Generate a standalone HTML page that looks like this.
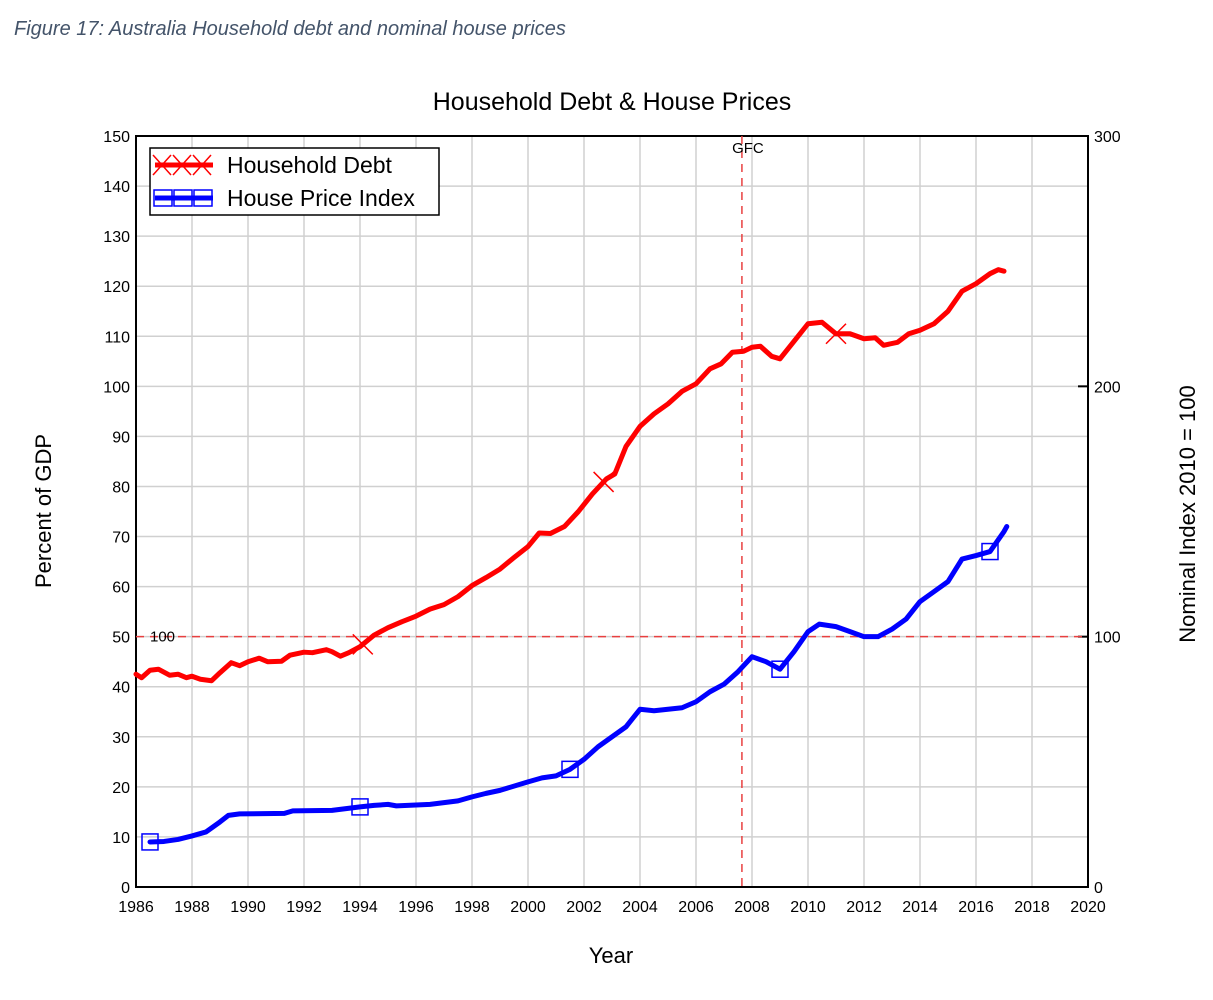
<!DOCTYPE html>
<html><head><meta charset="utf-8"><style>
body{margin:0;background:#fff;width:1213px;height:1000px;overflow:hidden;font-family:"Liberation Sans",sans-serif}
</style></head><body>
<div style="position:absolute;left:14px;top:18px;font-style:italic;font-size:20px;color:#44546a">Figure 17: Australia Household debt and nominal house prices</div>
<svg id="chart" width="1213" height="1000" style="position:absolute;left:0;top:0" font-family="Liberation Sans, sans-serif"></svg>
<script>
const debtYears=[1986.0,1986.2,1986.5,1986.8,1987.2,1987.5,1987.8,1988.0,1988.3,1988.7,1989.0,1989.4,1989.7,1990.0,1990.4,1990.7,1991.2,1991.5,1992.0,1992.3,1992.8,1993.0,1993.3,1993.6,1994.0,1994.5,1995.0,1995.5,1996.0,1996.5,1997.0,1997.5,1998.0,1998.5,1999.0,1999.5,2000.0,2000.4,2000.8,2001.3,2001.8,2002.3,2002.8,2003.1,2003.5,2004.0,2004.5,2005.0,2005.5,2006.0,2006.5,2006.9,2007.3,2007.7,2008.0,2008.3,2008.7,2009.0,2009.5,2010.0,2010.5,2011.0,2011.5,2012.0,2012.4,2012.7,2013.2,2013.6,2014.0,2014.5,2015.0,2015.5,2016.0,2016.5,2016.8,2017.0];
const debtValues=[42.5,41.8,43.3,43.5,42.3,42.5,41.8,42.1,41.5,41.2,42.8,44.8,44.2,45.0,45.7,45.0,45.1,46.3,46.9,46.8,47.4,47.0,46.1,46.8,48.0,50.3,51.8,53.0,54.1,55.5,56.4,58.0,60.2,61.8,63.5,65.8,68.0,70.7,70.6,72.0,75.0,78.5,81.5,82.5,88,92,94.5,96.5,99,100.5,103.5,104.5,106.8,107,107.8,108,106,105.5,109,112.5,112.8,110.5,110.5,109.5,109.7,108.2,108.8,110.5,111.2,112.5,115,119,120.5,122.5,123.3,123.0];
const hpiYears=[1986.5,1987.0,1987.5,1988.0,1988.5,1989.0,1989.3,1989.7,1991.3,1991.6,1993.0,1994.0,1994.5,1995.0,1995.3,1996.5,1997.5,1998.0,1998.5,1999.0,2000.0,2000.5,2001.0,2001.5,2002.0,2002.5,2003.0,2003.5,2004.0,2004.5,2005.0,2005.5,2006.0,2006.5,2007.0,2007.5,2008.0,2008.5,2009.0,2009.5,2010.0,2010.4,2011.0,2011.5,2012.0,2012.5,2013.0,2013.5,2014.0,2014.5,2015.0,2015.5,2016.0,2016.5,2017.0,2017.1];
const hpiValues=[18,18.2,19,20.4,22,26,28.6,29.2,29.4,30.4,30.6,32,32.6,33,32.4,33,34.4,36,37.4,38.6,42,43.6,44.4,47,51,56,60,64,71,70.4,71,71.6,74,78,81,86,92,90,87,94,102,105,104,102,100,100,103,107,114,118,122,131,132.4,134,142,144];
const debtMarkers=[1994.1,2002.7,2011.0];
const hpiMarkers=[1986.5,1994.0,2001.5,2009.0,2016.5];
const xTicks=[1986,1988,1990,1992,1994,1996,1998,2000,2002,2004,2006,2008,2010,2012,2014,2016,2018,2020];
const yTicks=[0,10,20,30,40,50,60,70,80,90,100,110,120,130,140,150];
const y2Ticks=[0,100,200,300];
const gfcYear=2007.64;

const L=136,R=1088,T=136,B=887;
const x=v=>L+(v-1986)/34*(R-L);
const y=v=>B-v/150*(B-T);
const y2=v=>B-v/300*(B-T);
const svg=document.getElementById('chart');
const NS='http://www.w3.org/2000/svg';
function mk(tag,attrs,parent){const e=document.createElementNS(NS,tag);for(const k in attrs)e.setAttribute(k,attrs[k]);(parent||svg).appendChild(e);return e;}
function interp(xs,vs,t){for(let i=0;i<xs.length-1;i++){if(t>=xs[i]&&t<=xs[i+1])return vs[i]+(vs[i+1]-vs[i])*(t-xs[i])/(xs[i+1]-xs[i]);}return vs[vs.length-1];}

let g=mk('g',{});


xTicks.forEach(t=>{if(t>1986&&t<2020)mk('line',{x1:x(t),x2:x(t),y1:T,y2:B,stroke:'#d0d0d0','stroke-width':1.5},g);});
yTicks.forEach(t=>{if(t>0&&t<150)mk('line',{x1:L,x2:R,y1:y(t),y2:y(t),stroke:'#d0d0d0','stroke-width':1.5},g);});

let ax=mk('g',{});


mk('rect',{x:L,y:T,width:R-L,height:B-T,fill:'none',stroke:'#000','stroke-width':2},ax);
xTicks.forEach(t=>{const e=mk('text',{x:x(t),y:912,'text-anchor':'middle','font-size':16},ax);e.textContent=t;

});
yTicks.forEach(t=>{const e=mk('text',{x:130,y:y(t)+6,'text-anchor':'end','font-size':16},ax);e.textContent=t;

});
y2Ticks.forEach(t=>{mk('line',{x1:R-10,x2:R,y1:y2(t),y2:y2(t),stroke:'#000','stroke-width':2},ax);const e=mk('text',{x:1094,y:y2(t)+6,'font-size':16},ax);e.textContent=t;

});

let ref=mk('line',{x1:L,x2:R,y1:y2(100),y2:y2(100),stroke:'#e84040','stroke-width':1.5,'stroke-dasharray':'8,6'});


let rl=mk('text',{x:150,y:y2(100)+5,'font-size':15});rl.textContent='100';


let gl=mk('line',{x1:x(gfcYear),x2:x(gfcYear),y1:T,y2:B,stroke:'#e84040','stroke-width':1.5,'stroke-dasharray':'8,6'});


let gt=mk('text',{x:x(gfcYear)+6,y:153,'text-anchor':'middle','font-size':15});gt.textContent='GFC';



let dp=mk('polyline',{points:debtYears.map((t,i)=>x(t)+','+y(debtValues[i])).join(' '),fill:'none',stroke:'#ff0000','stroke-width':5,'stroke-linejoin':'round','stroke-linecap':'round'});


let hp=mk('polyline',{points:hpiYears.map((t,i)=>x(t)+','+y2(hpiValues[i])).join(' '),fill:'none',stroke:'#0000ff','stroke-width':5,'stroke-linejoin':'round','stroke-linecap':'round'});


debtMarkers.forEach(t=>{const cx=x(t),cy=y(interp(debtYears,debtValues,t));const p=mk('path',{d:`M${cx-10},${cy-10}L${cx+10},${cy+10}M${cx-10},${cy+10}L${cx+10},${cy-10}`,stroke:'#ff0000','stroke-width':1.5});

});
hpiMarkers.forEach(t=>{const cx=x(t),cy=y2(interp(hpiYears,hpiValues,t));const p=mk('rect',{x:cx-8,y:cy-8,width:16,height:16,fill:'none',stroke:'#0000ff','stroke-width':1.5});

});

let lg=mk('g',{});


mk('rect',{x:150,y:148,width:289,height:67,fill:'#fff',stroke:'#000','stroke-width':1.5},lg);
mk('line',{x1:155,x2:213,y1:165,y2:165,stroke:'#ff0000','stroke-width':5},lg);
[162,182,202].forEach(c=>mk('path',{d:`M${c-9},155L${c+9},175M${c-9},175L${c+9},155`,stroke:'#ff0000','stroke-width':1.5},lg));
mk('line',{x1:155,x2:213,y1:198,y2:198,stroke:'#0000ff','stroke-width':5},lg);
[163,183,203].forEach(c=>mk('rect',{x:c-9,y:190,width:18,height:16,fill:'none',stroke:'#0000ff','stroke-width':1.5},lg));
let t1=mk('text',{x:227,y:173,'font-size':23},lg);t1.textContent='Household Debt';
let t2=mk('text',{x:227,y:206,'font-size':23},lg);t2.textContent='House Price Index';

let ti=mk('text',{x:612,y:110,'text-anchor':'middle','font-size':25});ti.textContent='Household Debt & House Prices';


let xl=mk('text',{x:611,y:963,'text-anchor':'middle','font-size':22});xl.textContent='Year';


let yl=mk('text',{x:0,y:0,'text-anchor':'middle','font-size':22,transform:'translate(51,511) rotate(-90)'});yl.textContent='Percent of GDP';


let y2l=mk('text',{x:0,y:0,'text-anchor':'middle','font-size':22,transform:'translate(1195,514) rotate(-90)'});y2l.textContent='Nominal Index 2010 = 100';


</script>
</body></html>
